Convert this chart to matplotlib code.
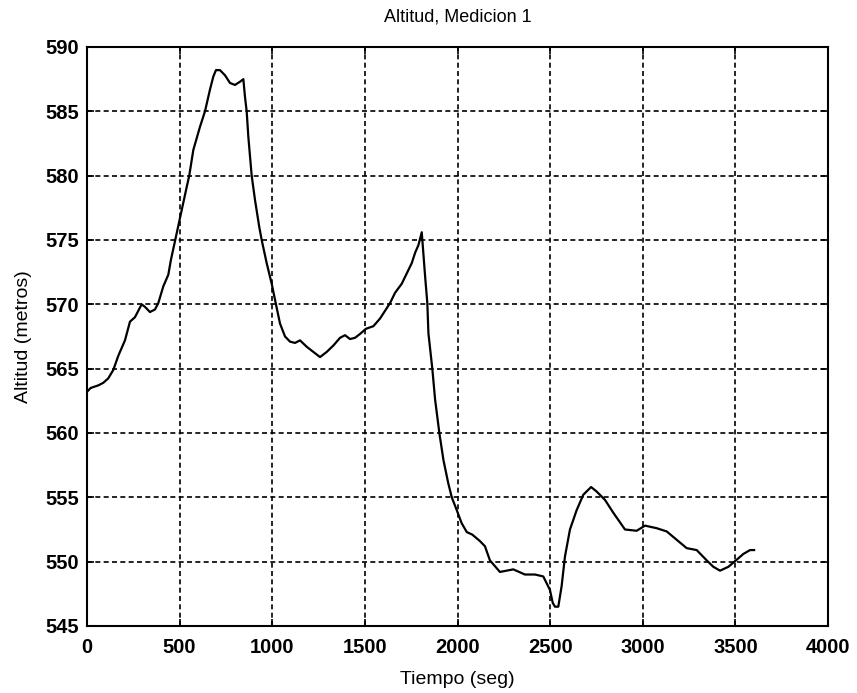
import matplotlib
matplotlib.use("Agg")
import matplotlib.pyplot as plt

# Altitude trace (time in s, altitude in m)
tiempo = [0, 20, 61, 88, 115, 142, 169, 205, 232, 259, 295, 313, 340, 367, 385,
          412, 439, 453, 538, 552, 574, 610, 637, 664, 682, 696, 718, 745, 772,
          799, 826, 844, 853, 862, 871, 889, 907, 930, 943, 970, 997, 1020, 1042,
          1069, 1096, 1123, 1150, 1186, 1222, 1258, 1294, 1330, 1366, 1393, 1420,
          1447, 1474, 1506, 1546, 1582, 1609, 1636, 1663, 1699, 1726, 1753, 1771,
          1789, 1807, 1825, 1837, 1843, 1864, 1879, 1902, 1924, 1950, 1969, 1996,
          2022, 2050, 2080, 2121, 2148, 2175, 2229, 2301, 2364, 2418, 2463, 2499,
          2514, 2526, 2544, 2562, 2580, 2607, 2643, 2679, 2721, 2751, 2796, 2841,
          2904, 2967, 3012, 3075, 3129, 3183, 3237, 3291, 3345, 3381, 3417, 3462,
          3503, 3543, 3579, 3601]
altitud = [563.2, 563.5, 563.7, 563.9, 564.25, 564.9, 566.0, 567.2, 568.65, 569.0,
           570.0, 569.8, 569.4, 569.6, 570.1, 571.4, 572.3, 573.45, 579.1, 580.0,
           582.0, 583.8, 585.0, 586.7, 587.7, 588.2, 588.2, 587.8, 587.2, 587.05,
           587.3, 587.5, 586.1, 585.0, 583.0, 580.0, 578.1, 576.0, 575.0, 573.2,
           571.6, 570.0, 568.5, 567.5, 567.1, 567.0, 567.2, 566.7, 566.3, 565.9,
           566.3, 566.8, 567.4, 567.6, 567.3, 567.4, 567.7, 568.1, 568.3, 568.9,
           569.5, 570.1, 570.9, 571.6, 572.4, 573.2, 574.0, 574.6, 575.6, 572.2,
           570.1, 567.75, 565.0, 562.6, 560.0, 557.9, 556.1, 555.0, 554.0, 553.0,
           552.3, 552.1, 551.6, 551.2, 550.1, 549.2, 549.4, 549.0, 549.0, 548.85,
           547.8, 546.8, 546.5, 546.5, 548.1, 550.4, 552.5, 554.0, 555.2, 555.8,
           555.45, 554.8, 553.8, 552.5, 552.4, 552.8, 552.6, 552.35, 551.7, 551.05,
           550.9, 550.1, 549.6, 549.3, 549.6, 550.1, 550.6, 550.9, 550.9]

x_ticks = [0, 500, 1000, 1500, 2000, 2500, 3000, 3500, 4000]
y_ticks = [545, 550, 555, 560, 565, 570, 575, 580, 585, 590]

plt.rcParams['font.family'] = ['Liberation Sans', 'DejaVu Sans']

fig = plt.figure(figsize=(8.57, 6.93), dpi=100)
ax = fig.add_axes([0.1015, 0.0967, 0.8647, 0.8355])

ax.plot(tiempo, altitud, color='black', linewidth=1.6)

ax.set_xlim(0, 4000)
ax.set_ylim(545, 590)
ax.set_xticks(x_ticks)
ax.set_yticks(y_ticks)

# MATLAB-like grid and inward ticks on all sides
ax.grid(True, color='black', linestyle=(0, (3, 2)), linewidth=1.2)
ax.tick_params(direction='in', top=True, right=True, length=5, width=1.2,
               labelsize=14.5)
ax.tick_params(axis='x', pad=9)
ax.tick_params(axis='y', pad=6)
for lbl in ax.get_xticklabels() + ax.get_yticklabels():
    lbl.set_fontweight('bold')
for sp in ax.spines.values():
    sp.set_linewidth(1.5)

ax.set_title('Altitud, Medicion 1', fontsize=13, pad=18)
ax.set_xlabel('Tiempo (seg)', fontsize=14, labelpad=10)
ax.set_ylabel('Altitud (metros)', fontsize=14, labelpad=9)

fig.savefig('out.png', dpi=100)
